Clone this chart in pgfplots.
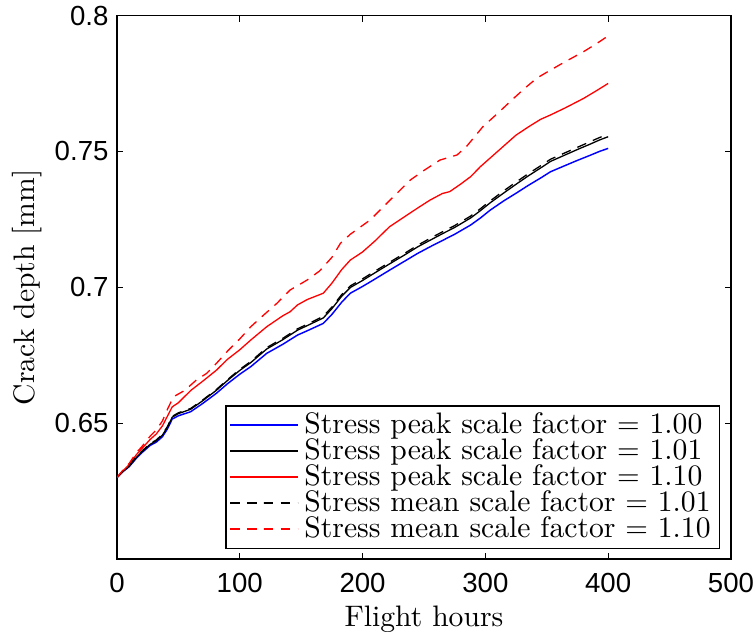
\documentclass[border=0pt]{standalone}
\usepackage{fontspec}
\usepackage{pgfplots}
\pgfplotsset{compat=1.18}
\newfontfamily\tickfont{Liberation Sans}
\begin{document}
\begin{tikzpicture}
\useasboundingbox (-40.25pt,-24.77pt) rectangle (219.82pt,192.30pt);
\begin{axis}[
  at={(0,0)}, anchor=south west,
  scale only axis, width=211.2pt, height=186.96pt,
  xmin=0, xmax=500, ymin=0.6, ymax=0.8,
  xtick={0,100,200,300,400,500},
  ytick={0.65,0.7,0.75,0.8},
  yticklabels={0.65,0.7,0.75,0.8},
  xticklabels={0,100,200,300,400,500},
  tick align=inside, major tick length=2.1pt,
  tick style={line width=0.4pt, black},
  axis line style={line width=0.6pt},
  /pgf/number format/assume math mode=true,
  ticklabel style={font=\tickfont\fontsize{9.5}{11}\selectfont},
  xticklabel style={yshift=-1.2pt},
  yticklabel style={xshift=0.6pt},
  xlabel={Flight hours}, ylabel={Crack depth [mm]},
  label style={font=\fontsize{10.2}{12}\selectfont},
  xlabel style={at={(axis description cs:0.5,0)}, anchor=north, yshift=-12.5pt},
  ylabel style={at={(axis description cs:-0.105,0.5)}, anchor=south},
  legend style={at={(axis description cs:1,0)}, anchor=south east, xshift=-3.8pt, yshift=3.4pt,
    inner xsep=1pt, inner ysep=0.3pt,
    font=\fontsize{10.2}{12}\selectfont, row sep=-3.75pt},
  legend cell align=left,
  legend image code/.code={\draw[mark repeat=2,mark phase=2, line width=0.75pt] plot coordinates {(0pt,0pt) (11.6pt,0pt) (23.2pt,0pt)};},
]
\addplot[blue, line width=0.5pt] coordinates {
(0,0.6300) (5,0.6322) (10,0.6340) (16,0.6372) (20,0.6390) (27,0.6418) (32,0.6430) (37,0.6450) (41,0.6478) (45,0.6515) (50,0.6527) (60,0.6542) (70,0.6573) (81,0.6610) (90,0.6645) (100,0.6680) (109,0.6708) (122,0.6757) (135,0.6790) (147,0.6824) (155,0.6840) (168,0.6867) (175,0.6900) (183,0.6945) (190,0.6978) (200,0.7003) (210,0.7030) (222,0.7063) (235,0.7098) (245,0.7125) (255,0.7149) (265,0.7172) (275,0.7195) (288,0.7229) (296,0.7255) (304,0.7284) (315,0.7318) (325,0.7346) (335,0.7375) (345,0.7402) (353,0.7425) (365,0.7448) (375,0.7467) (385,0.7485) (393,0.7500) (400,0.7511)
};
\addlegendentry{Stress peak scale factor $=$ 1.00}
\addplot[black, line width=0.45pt] coordinates {
(0,0.6300) (5,0.6323) (10,0.6342) (16,0.6375) (20,0.6393) (27,0.6422) (32,0.6435) (37,0.6456) (41,0.6484) (45,0.6522) (50,0.6535) (60,0.6551) (70,0.6583) (81,0.6621) (90,0.6657) (100,0.6694) (109,0.6723) (122,0.6773) (135,0.6807) (147,0.6842) (155,0.6859) (168,0.6887) (175,0.6921) (183,0.6967) (190,0.6999) (200,0.7025) (210,0.7053) (222,0.7086) (235,0.7121) (245,0.7149) (255,0.7173) (265,0.7197) (275,0.7220) (288,0.7255) (296,0.7282) (304,0.7311) (315,0.7347) (325,0.7379) (335,0.7410) (345,0.7439) (353,0.7463) (365,0.7487) (375,0.7507) (385,0.7526) (393,0.7542) (400,0.7554)
};
\addlegendentry{Stress peak scale factor $=$ 1.01}
\addplot[red, line width=0.45pt] coordinates {
(0,0.6300) (5,0.6325) (10,0.6348) (16,0.6385) (20,0.6405) (27,0.6440) (32,0.6460) (37,0.6490) (41,0.6525) (45,0.6560) (50,0.6575) (60,0.6620) (70,0.6655) (81,0.6695) (90,0.6735) (100,0.6770) (109,0.6806) (122,0.6855) (135,0.6895) (141,0.6910) (147,0.6935) (155,0.6955) (168,0.6978) (175,0.7015) (183,0.7065) (190,0.7100) (200,0.7130) (210,0.7170) (222,0.7223) (235,0.7262) (245,0.7292) (255,0.7321) (265,0.7345) (271,0.7352) (280,0.7380) (288,0.7407) (296,0.7444) (305,0.7480) (315,0.7520) (325,0.7560) (335,0.7590) (345,0.7618) (353,0.7634) (365,0.7660) (380,0.7695) (390,0.7722) (400,0.7750)
};
\addlegendentry{Stress peak scale factor $=$ 1.10}
\addplot[black, line width=0.45pt, dash pattern=on 3.3pt off 2.5pt] coordinates {
(0,0.6300) (5,0.6324) (10,0.6344) (16,0.6378) (20,0.6396) (27,0.6425) (32,0.6438) (37,0.6459) (41,0.6487) (45,0.6525) (50,0.6538) (60,0.6554) (70,0.6586) (81,0.6624) (90,0.6660) (100,0.6698) (109,0.6727) (122,0.6778) (135,0.6812) (147,0.6847) (155,0.6864) (168,0.6893) (175,0.6927) (183,0.6973) (190,0.7005) (200,0.7031) (210,0.7059) (222,0.7092) (235,0.7127) (245,0.7155) (255,0.7180) (265,0.7204) (275,0.7227) (288,0.7262) (296,0.7289) (304,0.7318) (315,0.7355) (325,0.7387) (335,0.7418) (345,0.7447) (353,0.7471) (365,0.7495) (375,0.7515) (385,0.7535) (393,0.7551) (400,0.7563)
};
\addlegendentry{Stress mean scale factor $=$ 1.01}
\addplot[red, line width=0.45pt, dash pattern=on 3.3pt off 2.5pt] coordinates {
(0,0.6300) (5,0.6328) (10,0.6352) (16,0.6393) (20,0.6412) (27,0.6452) (32,0.6475) (37,0.6508) (41,0.6550) (46,0.6597) (55,0.6620) (65,0.6660) (73,0.6683) (81,0.6720) (90,0.6765) (100,0.6810) (109,0.6855) (120,0.6900) (130,0.6940) (141,0.6990) (155,0.7027) (165,0.7060) (175,0.7110) (182,0.7162) (190,0.7195) (206,0.7247) (220,0.7310) (230,0.7355) (239,0.7395) (250,0.7430) (263,0.7468) (277,0.7487) (285,0.7520) (298,0.7591) (310,0.7640) (323,0.7695) (332,0.7732) (342,0.7770) (353,0.7799) (365,0.7830) (380,0.7867) (390,0.7895) (399,0.7922)
};
\addlegendentry{Stress mean scale factor $=$ 1.10}
\end{axis}
\end{tikzpicture}
\end{document}
